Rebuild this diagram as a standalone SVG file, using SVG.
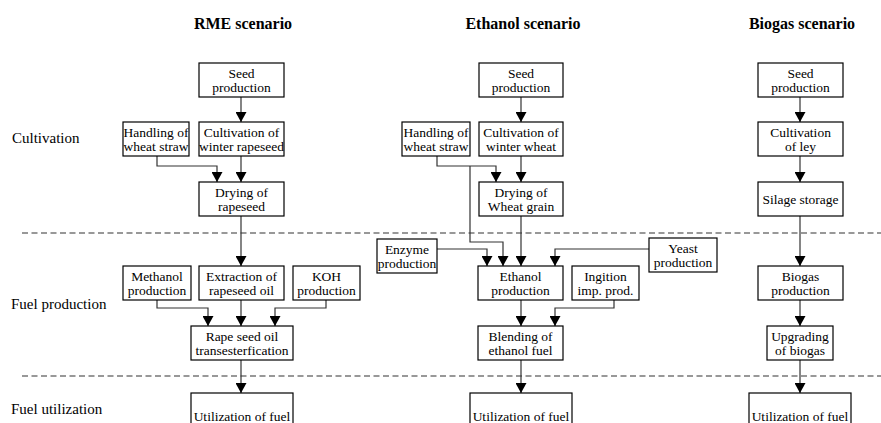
<svg xmlns="http://www.w3.org/2000/svg" width="881" height="423" viewBox="0 0 881 423">
<style>
text{font-family:"Liberation Serif",Tinos,"Times New Roman",Times,"Nimbus Roman","FreeSerif","Noto Serif","DejaVu Serif",serif;fill:#000}
.t{font-size:13.5px;text-anchor:middle}
.h{font-size:16px;font-weight:bold;text-anchor:middle}
.l{font-size:15px}
.b{fill:#fff;stroke:#000;stroke-width:1.2}
.c{fill:none;stroke:#333;stroke-width:1.2}
.d{fill:none;stroke:#333;stroke-width:1.1;stroke-dasharray:6,3.5}
</style>
<defs>
<marker id="a" markerUnits="userSpaceOnUse" markerWidth="10" markerHeight="11" refX="10" refY="5.5" orient="auto" viewBox="0 0 10 11">
<path d="M0,0 L10,5.5 L0,11 Z" fill="#000"/>
</marker>
</defs>
<rect width="881" height="423" fill="#fff"/>
<g id="titles">
<text class="h" x="243" y="29">RME scenario</text>
<text class="h" x="523" y="29">Ethanol scenario</text>
<text class="h" x="802" y="29">Biogas scenario</text>
<text class="l" x="12" y="143">Cultivation</text>
<text class="l" x="11" y="309">Fuel production</text>
<text class="l" x="11" y="414">Fuel utilization</text>
</g>
<g id="dividers">
<line class="d" x1="22" y1="233" x2="881" y2="233"/>
<line class="d" x1="22" y1="376" x2="881" y2="376"/>
</g>
<g id="connectors">
<path class="c" marker-end="url(#a)" d="M241,97 V122"/>
<path class="c" marker-end="url(#a)" d="M241,156 V182"/>
<path class="c" marker-end="url(#a)" d="M157,156 V166 H217 V182"/>
<path class="c" marker-end="url(#a)" d="M241,216 V266"/>
<path class="c" marker-end="url(#a)" d="M157,300 V308 H208 V326"/>
<path class="c" marker-end="url(#a)" d="M241,300 V326"/>
<path class="c" marker-end="url(#a)" d="M326,300 V308 H275 V326"/>
<path class="c" marker-end="url(#a)" d="M241,360 V393"/>
<path class="c" marker-end="url(#a)" d="M521,97 V122"/>
<path class="c" marker-end="url(#a)" d="M521,156 V182"/>
<path class="c" marker-end="url(#a)" d="M437,156 V166 H496 V182"/>
<path class="c" marker-end="url(#a)" d="M470,166 V242 H503 V266"/>
<path class="c" marker-end="url(#a)" d="M521,216 V266"/>
<path class="c" marker-end="url(#a)" d="M437,249 H487 V266"/>
<path class="c" marker-end="url(#a)" d="M649,249 H555 V266"/>
<path class="c" marker-end="url(#a)" d="M521,300 V326"/>
<path class="c" marker-end="url(#a)" d="M614,300 V308 H555 V326"/>
<path class="c" marker-end="url(#a)" d="M521,360 V393"/>
<path class="c" marker-end="url(#a)" d="M800,97 V122"/>
<path class="c" marker-end="url(#a)" d="M800,156 V182"/>
<path class="c" marker-end="url(#a)" d="M800,216 V266"/>
<path class="c" marker-end="url(#a)" d="M800,300 V326"/>
<path class="c" marker-end="url(#a)" d="M800,360 V393"/>
</g>
<g id="rme-seed"><rect class="b" x="199" y="63" width="85" height="34"/><text class="t" x="241.5" y="78">Seed</text><text class="t" x="241.5" y="92">production</text></g>
<g id="rme-handling"><rect class="b" x="123" y="122" width="66" height="34"/><text class="t" x="156" y="137">Handling of</text><text class="t" x="156" y="151">wheat straw</text></g>
<g id="rme-cultivation"><rect class="b" x="199" y="122" width="85" height="34"/><text class="t" x="241.5" y="137">Cultivation of</text><text class="t" x="241.5" y="151">winter rapeseed</text></g>
<g id="rme-drying"><rect class="b" x="199" y="182" width="85" height="34"/><text class="t" x="241.5" y="197">Drying of</text><text class="t" x="241.5" y="211">rapeseed</text></g>
<g id="rme-methanol"><rect class="b" x="123" y="266" width="68" height="34"/><text class="t" x="157" y="281">Methanol</text><text class="t" x="157" y="295">production</text></g>
<g id="rme-extraction"><rect class="b" x="199" y="266" width="85" height="34"/><text class="t" x="241.5" y="281">Extraction of</text><text class="t" x="241.5" y="295">rapeseed oil</text></g>
<g id="rme-koh"><rect class="b" x="293" y="266" width="67" height="34"/><text class="t" x="326.5" y="281">KOH</text><text class="t" x="326.5" y="295">production</text></g>
<g id="rme-transest"><rect class="b" x="191" y="326" width="102" height="34"/><text class="t" x="242" y="341">Rape seed oil</text><text class="t" x="242" y="355">transesterfication</text></g>
<g id="rme-util"><rect class="b" x="191" y="393" width="102" height="40"/><text class="t" x="242" y="421">Utilization of fuel</text></g>
<g id="eth-seed"><rect class="b" x="479" y="63" width="84" height="34"/><text class="t" x="521" y="78">Seed</text><text class="t" x="521" y="92">production</text></g>
<g id="eth-handling"><rect class="b" x="402" y="122" width="68" height="34"/><text class="t" x="436" y="137">Handling of</text><text class="t" x="436" y="151">wheat straw</text></g>
<g id="eth-cultivation"><rect class="b" x="479" y="122" width="84" height="34"/><text class="t" x="521" y="137">Cultivation of</text><text class="t" x="521" y="151">winter wheat</text></g>
<g id="eth-drying"><rect class="b" x="479" y="182" width="84" height="34"/><text class="t" x="521" y="197">Drying of</text><text class="t" x="521" y="211">Wheat grain</text></g>
<g id="eth-enzyme"><rect class="b" x="377" y="239" width="60" height="34"/><text class="t" x="407" y="254">Enzyme</text><text class="t" x="407" y="268">production</text></g>
<g id="eth-ethanol"><rect class="b" x="478" y="266" width="85" height="34"/><text class="t" x="520.5" y="281">Ethanol</text><text class="t" x="520.5" y="295">production</text></g>
<g id="eth-ingition"><rect class="b" x="572" y="266" width="67" height="34"/><text class="t" x="605.5" y="281">Ingition</text><text class="t" x="605.5" y="295">imp. prod.</text></g>
<g id="eth-yeast"><rect class="b" x="649" y="238" width="68" height="34"/><text class="t" x="683" y="253">Yeast</text><text class="t" x="683" y="267">production</text></g>
<g id="eth-blending"><rect class="b" x="478" y="326" width="85" height="34"/><text class="t" x="520.5" y="341">Blending of</text><text class="t" x="520.5" y="355">ethanol fuel</text></g>
<g id="eth-util"><rect class="b" x="470" y="393" width="102" height="40"/><text class="t" x="521" y="421">Utilization of fuel</text></g>
<g id="bio-seed"><rect class="b" x="758" y="63" width="85" height="34"/><text class="t" x="800.5" y="78">Seed</text><text class="t" x="800.5" y="92">production</text></g>
<g id="bio-cultivation"><rect class="b" x="758" y="122" width="85" height="34"/><text class="t" x="800.5" y="137">Cultivation</text><text class="t" x="800.5" y="151">of ley</text></g>
<g id="bio-silage"><rect class="b" x="758" y="182" width="85" height="34"/><text class="t" x="800.5" y="204">Silage storage</text></g>
<g id="bio-biogas"><rect class="b" x="758" y="266" width="85" height="34"/><text class="t" x="800.5" y="281">Biogas</text><text class="t" x="800.5" y="295">production</text></g>
<g id="bio-upgrading"><rect class="b" x="767" y="326" width="66" height="34"/><text class="t" x="800" y="341">Upgrading</text><text class="t" x="800" y="355">of biogas</text></g>
<g id="bio-util"><rect class="b" x="749" y="393" width="102" height="40"/><text class="t" x="800" y="421">Utilization of fuel</text></g>
</svg>
